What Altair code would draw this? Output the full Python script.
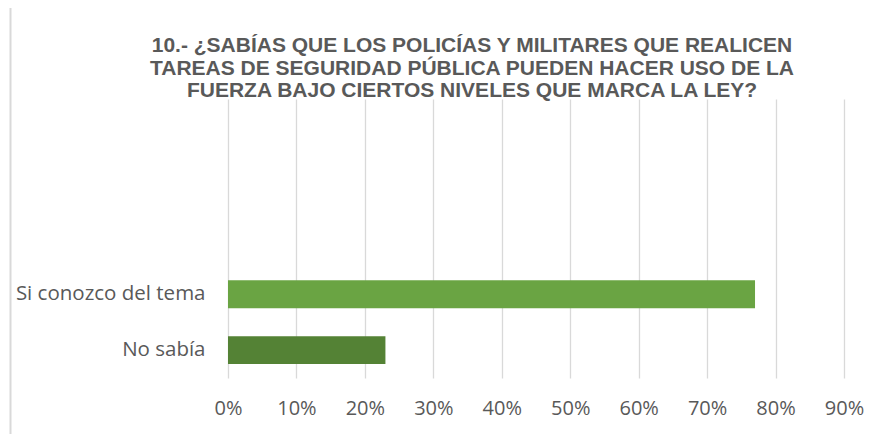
import altair as alt
import pandas as pd

categories = ["Si conozco del tema", "No sabía"]
values = [77, 23]
bar_colors = ["#6aa443", "#548235"]
blank_slots = [" ", "  ", "   "]
x_ticks = [0, 10, 20, 30, 40, 50, 60, 70, 80, 90]
title_lines = [
    "10.- ¿SABÍAS QUE LOS POLICÍAS Y MILITARES QUE REALICEN",
    "TAREAS DE SEGURIDAD PÚBLICA PUEDEN HACER USO DE LA",
    "FUERZA BAJO CIERTOS NIVELES QUE MARCA LA LEY?",
]

df = pd.DataFrame({"cat": categories, "val": values})

bars = alt.Chart(df).mark_bar().encode(
    x=alt.X(
        "val:Q",
        scale=alt.Scale(domain=[0, 90], nice=False),
        axis=alt.Axis(
            values=x_ticks,
            labelExpr="datum.value + '%'",
            title=None,
            domain=False,
            ticks=False,
            labelFlush=False,
            labelPadding=20,
            labelFont="Open Sans",
            labelFontSize=20,
            labelColor="#595959",
            grid=True,
            gridColor="#d9d9d9",
            gridWidth=1.3,
        ),
    ),
    y=alt.Y(
        "cat:N",
        scale=alt.Scale(domain=blank_slots + categories, paddingInner=0.5, paddingOuter=0.25),
        axis=alt.Axis(
            title=None,
            domain=False,
            ticks=False,
            grid=False,
            labelPadding=23,
            labelFont="Open Sans",
            labelFontSize=20.5,
            labelColor="#595959",
            labelLimit=400,
        ),
    ),
    color=alt.Color(
        "cat:N",
        scale=alt.Scale(domain=categories, range=bar_colors),
        legend=None,
    ),
)

frame = alt.Chart(pd.DataFrame({"a": [0]})).mark_rect(
    fill="white", fillOpacity=0, stroke="#d9d9d9", strokeWidth=2
).encode(
    x=alt.value(-217.5), x2=alt.value(720), y=alt.value(-92), y2=alt.value(380)
)

chart = alt.layer(frame, bars).properties(
    width=616,
    height=279,
    background="white",
    autosize=alt.AutoSizeParams(type="none"),
    padding={"left": 220, "top": 91, "right": 20, "bottom": 56},
    title=alt.TitleParams(
        text=title_lines,
        anchor="start",
        align="center",
        dx=244,
        dy=116,
        frame="group",
        font="Liberation Sans",
        fontSize=21,
        fontWeight="bold",
        color="#595959",
        lineHeight=22.5,
        baseline="bottom",
        offset=0,
    ),
).configure_view(strokeOpacity=0, strokeWidth=0, stroke="transparent")

chart.save("out.html", embed_options={"renderer": "svg", "actions": False})
